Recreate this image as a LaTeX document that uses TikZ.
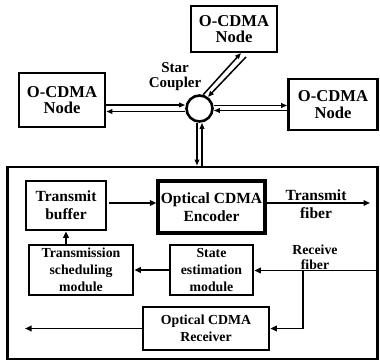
\documentclass[tikz,border=0pt]{standalone}
\usepackage{fontspec}
\setmainfont{Liberation Serif}
\usetikzlibrary{arrows.meta}
\tikzset{
	blk/.style={draw, line width=2.6pt, align=center, inner sep=0pt},
	bigtxt/.style={font=\fontsize{15.5}{18}\bfseries\selectfont},
	midtxt/.style={font=\fontsize{13.8}{17}\bfseries\selectfont},
	nodetxt/.style={font=\fontsize{16.6}{16.5}\bfseries\selectfont},
	arr/.style={line width=1.7pt, -{Triangle[length=6.5pt,width=5.5pt]}},
	darr/.style={line width=1.5pt, -{Triangle[length=6pt,width=4.5pt]}}
}

\begin{document}
\begin{tikzpicture}[x=1pt, y=-1pt]
				%%%%% START %%%%%
				\useasboundingbox (0,0) rectangle (380,363);
				
				\node[blk, nodetxt, minimum width=86, minimum height=46] (top) at (234,29) {O-CDMA\\Node};
				\node[blk, nodetxt, minimum width=86, minimum height=54] (left) at (62,100) {O-CDMA\\Node};
				\node[blk, nodetxt, minimum width=89, minimum height=51] (right) at (333,104.5) {O-CDMA\\Node};
				\node[draw, circle, line width=2.6pt, minimum size=26, inner sep=0pt] (star) at (199.5,108.5) {};
				\node[font=\fontsize{15}{15}\bfseries\selectfont, align=center] (starlbl) at (175,77) {Star\\Coupler};
				
				\draw[darr] (left.east |- 0,105) -- (star.west |- 0,105);
				\draw[darr] (star.west |- 0,111.5) -- (left.east |- 0,111.5);
				\draw[darr] (star.east |- 0,105.5) -- (right.west |- 0,105.5);
				\draw[darr] (right.west |- 0,110.5) -- (star.east |- 0,110.5);
				
				\coordinate (ta) at (241,53);
				\coordinate (tb) at (246,57);
				\draw[darr] (star.75) -- (ta);
				\draw[darr] (tb) -- (star.54);
				
				\node[draw, line width=2.8pt, minimum width=370, minimum height=192, inner sep=0pt] (frame) at (192.5,263) {};
				\draw[darr] (star.south -| 197,0) -- (frame.north -| 197,0);
				\draw[darr] (frame.north -| 202,0) -- (star.south -| 202,0);
				
				\node[blk, bigtxt, minimum width=80, minimum height=49] (buffer) at (66,205.5) {Transmit\\buffer};
				\node[blk, bigtxt, line width=3.2pt, minimum width=107, minimum height=52] (encoder) at (211.5,207) {Optical CDMA\\Encoder};
				\node[blk, midtxt, minimum width=104, minimum height=50] (sched) at (81,270) {Transmission\\scheduling\\module};
				\node[blk, midtxt, minimum width=83, minimum height=50] (state) at (211.5,270) {State\\estimation\\module};
				\node[blk, midtxt, minimum width=126, minimum height=43] (receiver) at (206,328.5) {Optical CDMA\\Receiver};
				
				\node[bigtxt, align=center] (txlbl) at (316,204) {Transmit\\fiber};
				\node[align=center, font=\fontsize{13.8}{15}\bfseries\selectfont] (rxlbl) at (315,257) {Receive\\fiber};
				
				\coordinate (txend) at (370,203);
				\coordinate (rxin) at (376,270.5);
				\coordinate (rxsplit) at (303,270.5);
				\coordinate (rxout) at (25,0);
				
				\draw[arr, shorten <=2pt] (buffer.east |- 0,203) -- (encoder.west |- 0,203);
				\draw[arr] (encoder.east |- txend) -- (txend);
				\draw[arr] (sched.north -| buffer.south) -- (buffer.south);
				\draw[arr] (state.west) -- (sched.east);
				\draw[arr] (rxin) -- (rxin -| state.east);
				\draw[arr] (rxsplit) |- (receiver.east);
				\draw[arr] (receiver.west) -- (receiver.west -| rxout);
				%%%%% END %%%%%
\end{tikzpicture}
\end{document}
